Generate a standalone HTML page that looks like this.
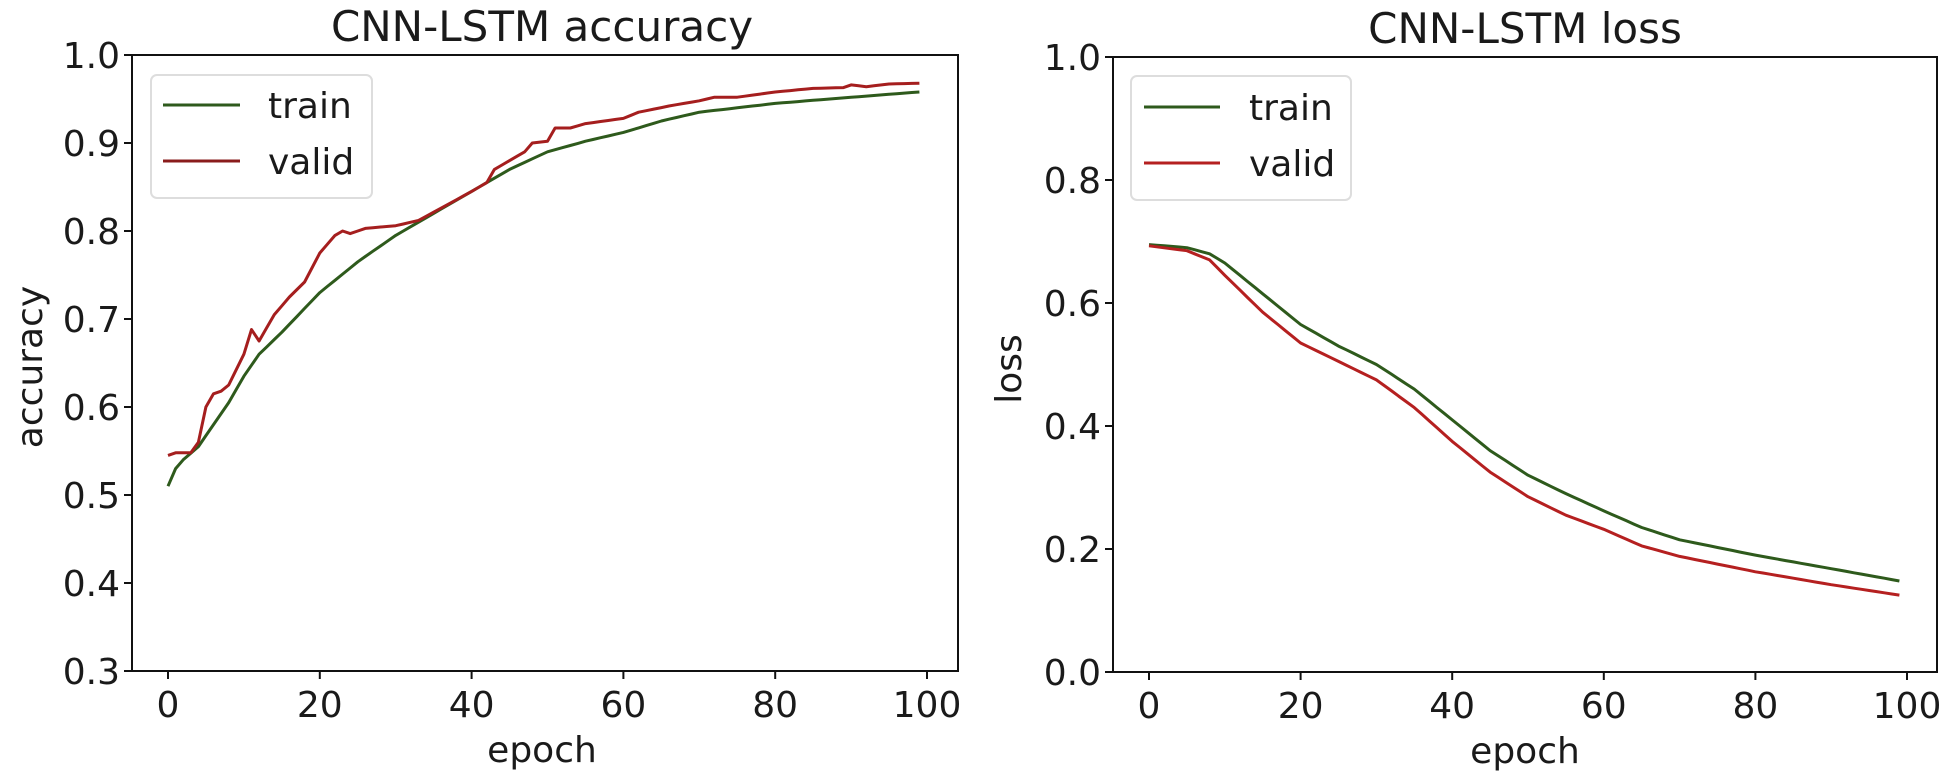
<!DOCTYPE html>
<html><head><meta charset="utf-8"><style>
html,body{margin:0;padding:0;background:#fff;}
svg{display:block;}
text{font-family:"DejaVu Sans","Liberation Sans",sans-serif;fill:#1a1a1a;}
</style></head><body>
<svg id="s" width="1954" height="782" viewBox="0 0 1954 782" xmlns="http://www.w3.org/2000/svg">
<rect width="1954" height="782" fill="#fff"/>
<!-- Left plot -->
<text x="542" y="41" font-size="42" text-anchor="middle">CNN-LSTM accuracy</text>
<rect x="132" y="55" width="826" height="616" fill="none" stroke="#111" stroke-width="2"/>
<g id="lt"></g>
<text x="542" y="762" font-size="36" text-anchor="middle">epoch</text>
<text transform="translate(42,367) rotate(-90)" font-size="36" text-anchor="middle">accuracy</text>
<rect x="151" y="75" width="221" height="123" rx="6" fill="#fff" stroke="#ddd" stroke-width="2"/>
<line x1="163" y1="105" x2="240" y2="105" stroke="#2e5a1c" stroke-width="3"/>
<line x1="163" y1="161" x2="240" y2="161" stroke="#8a1c1c" stroke-width="3"/>
<text x="268" y="118" font-size="36">train</text>
<text x="268" y="174" font-size="36">valid</text>
<!-- Right plot -->
<text x="1525" y="43" font-size="42" text-anchor="middle">CNN-LSTM loss</text>
<rect x="1113" y="57" width="824" height="615" fill="none" stroke="#111" stroke-width="2"/>
<g id="rt"></g>
<text x="1525" y="763" font-size="36" text-anchor="middle">epoch</text>
<text transform="translate(1021,369) rotate(-90)" font-size="36" text-anchor="middle">loss</text>
<rect x="1131" y="76" width="220" height="124" rx="6" fill="#fff" stroke="#ddd" stroke-width="2"/>
<line x1="1144" y1="107" x2="1220" y2="107" stroke="#2e5a1c" stroke-width="3"/>
<line x1="1144" y1="163" x2="1220" y2="163" stroke="#b52020" stroke-width="3"/>
<text x="1249" y="120" font-size="36">train</text>
<text x="1249" y="176" font-size="36">valid</text>
</svg>
<script>
var NS="http://www.w3.org/2000/svg",s=document.getElementById('s');
function el(t,a,p){var e=document.createElementNS(NS,t);for(var k in a)e.setAttribute(k,a[k]);(p||s).appendChild(e);return e;}
function interp(pts){var out=[];for(var e=0;e<=99;e++){for(var i=0;i<pts.length-1;i++){if(e>=pts[i][0]&&e<=pts[i+1][0]){var t=(e-pts[i][0])/(pts[i+1][0]-pts[i][0]);out.push([e,pts[i][1]+t*(pts[i+1][1]-pts[i][1])]);break;}}}return out;}
function plot(pts,x0,x100,yf,col){var d=interp(pts).map(function(p){return (x0+(x100-x0)*p[0]/100).toFixed(1)+','+yf(p[1]).toFixed(1)}).join(' ');el('polyline',{points:d,fill:'none',stroke:col,'stroke-width':3,'stroke-linejoin':'round'});}
function axes(g,left,bottom,x0,x100,yt,yf,fmt){var G=document.getElementById(g);
 for(var i=0;i<=5;i++){var x=x0+(x100-x0)*i/5;el('line',{x1:x,y1:bottom,x2:x,y2:bottom+8,stroke:'#111','stroke-width':2},G);var t=el('text',{x:x,y:bottom+46,'font-size':36,'text-anchor':'middle'},G);t.textContent=(i*20);}
 yt.forEach(function(v){var y=yf(v);el('line',{x1:left-8,y1:y,x2:left,y2:y,stroke:'#111','stroke-width':2},G);var t=el('text',{x:left-12,y:y+13,'font-size':36,'text-anchor':'end'},G);t.textContent=v.toFixed(1);});}
var ya=function(v){return 55+(1-v)*880;}, yl=function(v){return 672-v*615;};
axes('lt',132,671,168,927,[0.3,0.4,0.5,0.6,0.7,0.8,0.9,1.0],ya);
axes('rt',1113,672,1149,1907,[0,0.2,0.4,0.6,0.8,1.0],yl);
plot([[0,.51],[1,.53],[2,.54],[4,.555],[6,.58],[8,.605],[10,.635],[12,.66],[15,.685],[20,.73],[25,.765],[30,.795],[35,.82],[40,.845],[45,.87],[50,.89],[55,.902],[60,.912],[65,.925],[70,.935],[80,.945],[90,.952],[99,.958]],168,927,ya,'#2e5a1c');
plot([[0,.545],[1,.548],[3,.548],[4,.56],[5,.60],[6,.615],[7,.618],[8,.625],[10,.66],[11,.688],[12,.675],[13,.69],[14,.705],[16,.725],[18,.742],[20,.775],[22,.795],[23,.80],[24,.797],[26,.803],[30,.806],[33,.812],[36,.826],[40,.845],[42,.855],[43,.87],[45,.88],[47,.89],[48,.90],[50,.902],[51,.917],[53,.917],[55,.922],[60,.928],[62,.935],[66,.942],[70,.948],[72,.952],[75,.952],[80,.958],[85,.962],[89,.963],[90,.966],[92,.964],[95,.967],[99,.968]],168,927,ya,'#a51e1e');
plot([[0,.695],[5,.69],[8,.68],[10,.665],[15,.615],[20,.565],[25,.53],[30,.5],[35,.46],[40,.41],[45,.36],[50,.32],[55,.29],[60,.262],[65,.235],[70,.215],[80,.19],[90,.168],[99,.148]],1149,1907,yl,'#2e5a1c');
plot([[0,.693],[5,.685],[8,.67],[10,.645],[15,.585],[20,.535],[25,.505],[30,.475],[35,.43],[40,.375],[45,.325],[50,.285],[55,.255],[60,.232],[65,.205],[70,.188],[80,.163],[90,.142],[99,.125]],1149,1907,yl,'#b52020');
</script>
</body></html>
